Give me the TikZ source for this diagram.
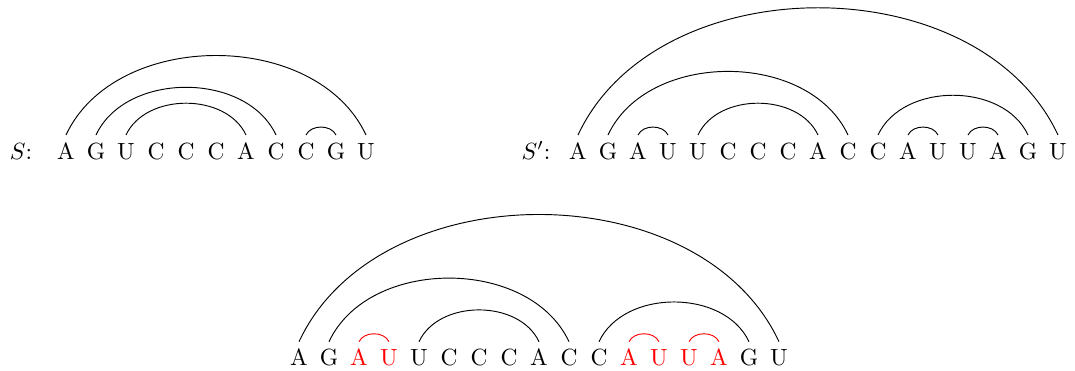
\documentclass[tikz,border=0pt]{standalone}
\begin{document}
\begin{tikzpicture}[x=0.4268pt,y=0.4268pt,
  nuc/.style={anchor=base, inner sep=3.333pt, text height=6.83pt, text depth=0pt},
  rnuc/.style={nuc, text=red},
  lbl/.style={anchor=base, inner sep=0pt},
  pair/.style={out=65, in=115, line width=0.4pt},
  rpair/.style={pair, draw=red}]
\useasboundingbox (0,0) rectangle (1075,371);
% Row S
\node[lbl] (labS) at (21,211.7) {$S$:};
\foreach \l [count=\i] in {A,G,U,C,C,C,A,C,C,G,U}
  \node[nuc] (s\i) at ({66+30*(\i-1)},211.7) {\l};
\draw (s1.north) to[pair] (s11.north);
\draw (s2.north) to[pair] (s8.north);
\draw (s3.north) to[pair] (s7.north);
\draw (s9.north) to[pair] (s10.north);
% Row S'
\node[lbl] (labT) at (536,211.7) {$S'$:};
\foreach \l [count=\i] in {A,G,A,U,U,C,C,C,A,C,C,A,U,U,A,G,U}
  \node[nuc] (t\i) at ({578+30*(\i-1)},211.7) {\l};
\draw (t1.north) to[pair] (t17.north);
\draw (t2.north) to[pair] (t10.north);
\draw (t3.north) to[pair] (t4.north);
\draw (t5.north) to[pair] (t9.north);
\draw (t11.north) to[pair] (t16.north);
\draw (t12.north) to[pair] (t13.north);
\draw (t14.north) to[pair] (t15.north);
% Bottom row
\foreach \l/\st [count=\i] in {A/nuc,G/nuc,A/rnuc,U/rnuc,U/nuc,C/nuc,C/nuc,C/nuc,A/nuc,C/nuc,C/nuc,A/rnuc,U/rnuc,U/rnuc,A/rnuc,G/nuc,U/nuc}
  \node[\st] (b\i) at ({299+30*(\i-1)},5) {\l};
\draw (b1.north) to[pair] (b17.north);
\draw (b2.north) to[pair] (b10.north);
\draw[red] (b3.north) to[pair] (b4.north);
\draw (b5.north) to[pair] (b9.north);
\draw (b11.north) to[pair] (b16.north);
\draw[red] (b12.north) to[pair] (b13.north);
\draw[red] (b14.north) to[pair] (b15.north);
\end{tikzpicture}
\end{document}
